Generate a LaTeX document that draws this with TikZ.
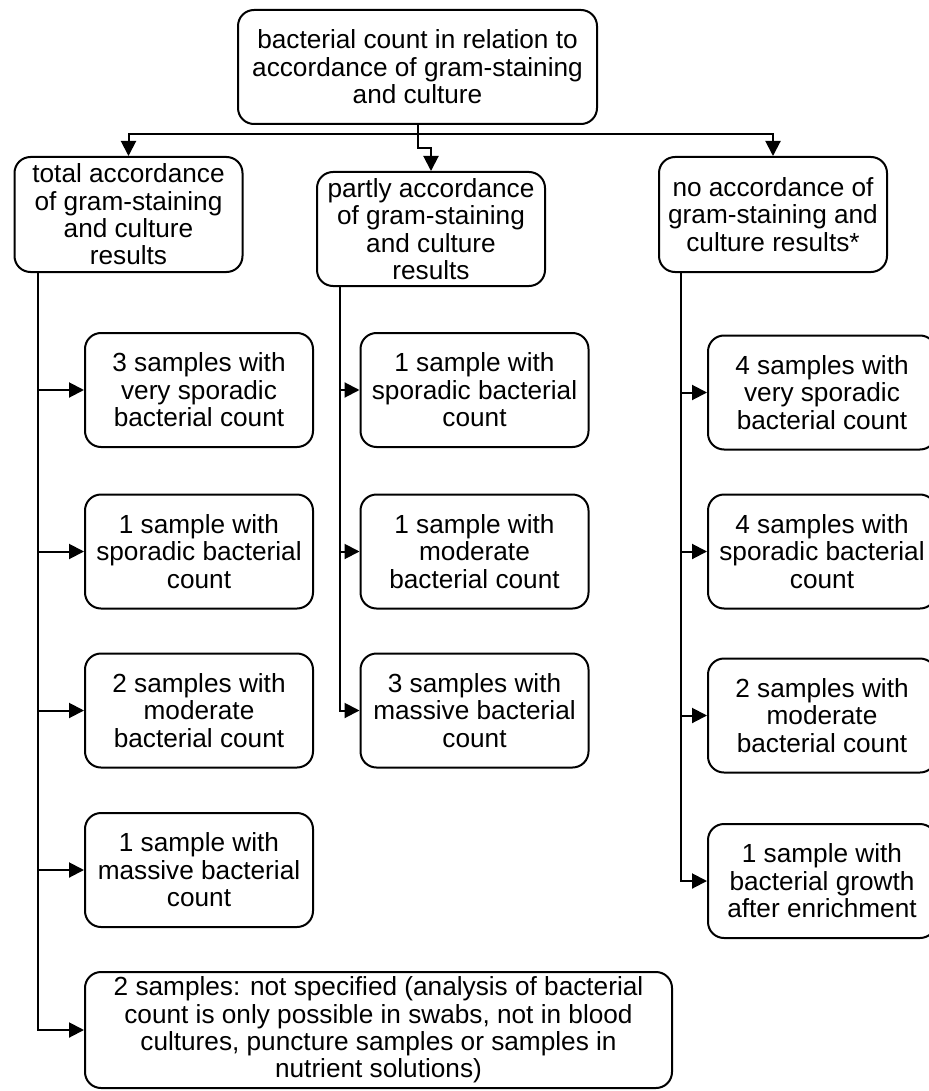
\documentclass[tikz,border=0pt]{standalone}
\usepackage{fontspec}
\setmainfont{Liberation Sans}
\usetikzlibrary{arrows.meta}
\tikzset{
  box/.style={draw, line width=1pt, rounded corners=8pt, inner sep=0pt, align=center,
    font=\fontsize{13.1}{13.7}\selectfont, minimum width=114pt, minimum height=57pt},
  arr/.style={line width=1pt, -{Triangle[length=7.5pt,width=7.5pt]}},
  ln/.style={line width=1pt}
}
\begin{document}
\begin{tikzpicture}[x=0.5pt,y=-0.5pt]
\clip (0,0) rectangle (929,1091);
\fill[white] (0,0) rectangle (929,1091);
% headers
\node[box, minimum width=179.5pt] (top) at (417.5,67) {bacterial count in relation to\\accordance of gram-staining\\and culture};
\node[box, minimum height=57.5pt] (lh) at (128.5,214.5) {total accordance\\of gram-staining\\and culture\\results};
\node[box] (mh) at (431,229) {partly accordance\\of gram-staining\\and culture\\results};
\node[box, minimum height=57.5pt] (rh) at (773,214.5) {no accordance of\\gram-staining and\\culture results*};
% left column
\node[box] (l1) at (199,390) {3 samples with\\very sporadic\\bacterial count};
\node[box] (l2) at (199,551.5) {1 sample with\\sporadic bacterial\\count};
\node[box] (l3) at (199,710.5) {2 samples with\\moderate\\bacterial count};
\node[box] (l4) at (199,870) {1 sample with\\massive bacterial\\count};
\node[box, minimum width=293.5pt, minimum height=58pt] (l5) at (378.5,1030) {2 samples: not specified (analysis of bacterial\\count is only possible in swabs, not in blood\\cultures, puncture samples or samples in\\nutrient solutions)};
% middle column
\node[box] (m1) at (474.5,390) {1 sample with\\sporadic bacterial\\count};
\node[box] (m2) at (474.5,551.5) {1 sample with\\moderate\\bacterial count};
\node[box] (m3) at (474.5,710.5) {3 samples with\\massive bacterial\\count};
% right column
\node[box] (r1) at (822,392.5) {4 samples with\\very sporadic\\bacterial count};
\node[box] (r2) at (822,551.5) {4 samples with\\sporadic bacterial\\count};
\node[box] (r3) at (822,715.5) {2 samples with\\moderate\\bacterial count};
\node[box] (r4) at (822,881) {1 sample with\\bacterial growth\\after enrichment};
% top connectors
\coordinate (j) at (417.5,134);
\coordinate (jm) at (417.5,148);
\draw[ln] (top.south) -- (j);
\draw[arr] (j) -| (lh.north);
\draw[arr] (j) -| (rh.north);
\draw[arr] (j) -- (jm) -| (mh.north);
% trunks
\coordinate (lt) at (38,272);
\coordinate (mt) at (340,286);
\coordinate (rt) at (681,272);
\foreach \n in {l1,l2,l3,l4,l5} \draw[arr] (lt) |- (\n.west);
\foreach \n in {m1,m2,m3} \draw[arr] (mt) |- (\n.west);
\foreach \n in {r1,r2,r3,r4} \draw[arr] (rt) |- (\n.west);
\end{tikzpicture}
\end{document}
